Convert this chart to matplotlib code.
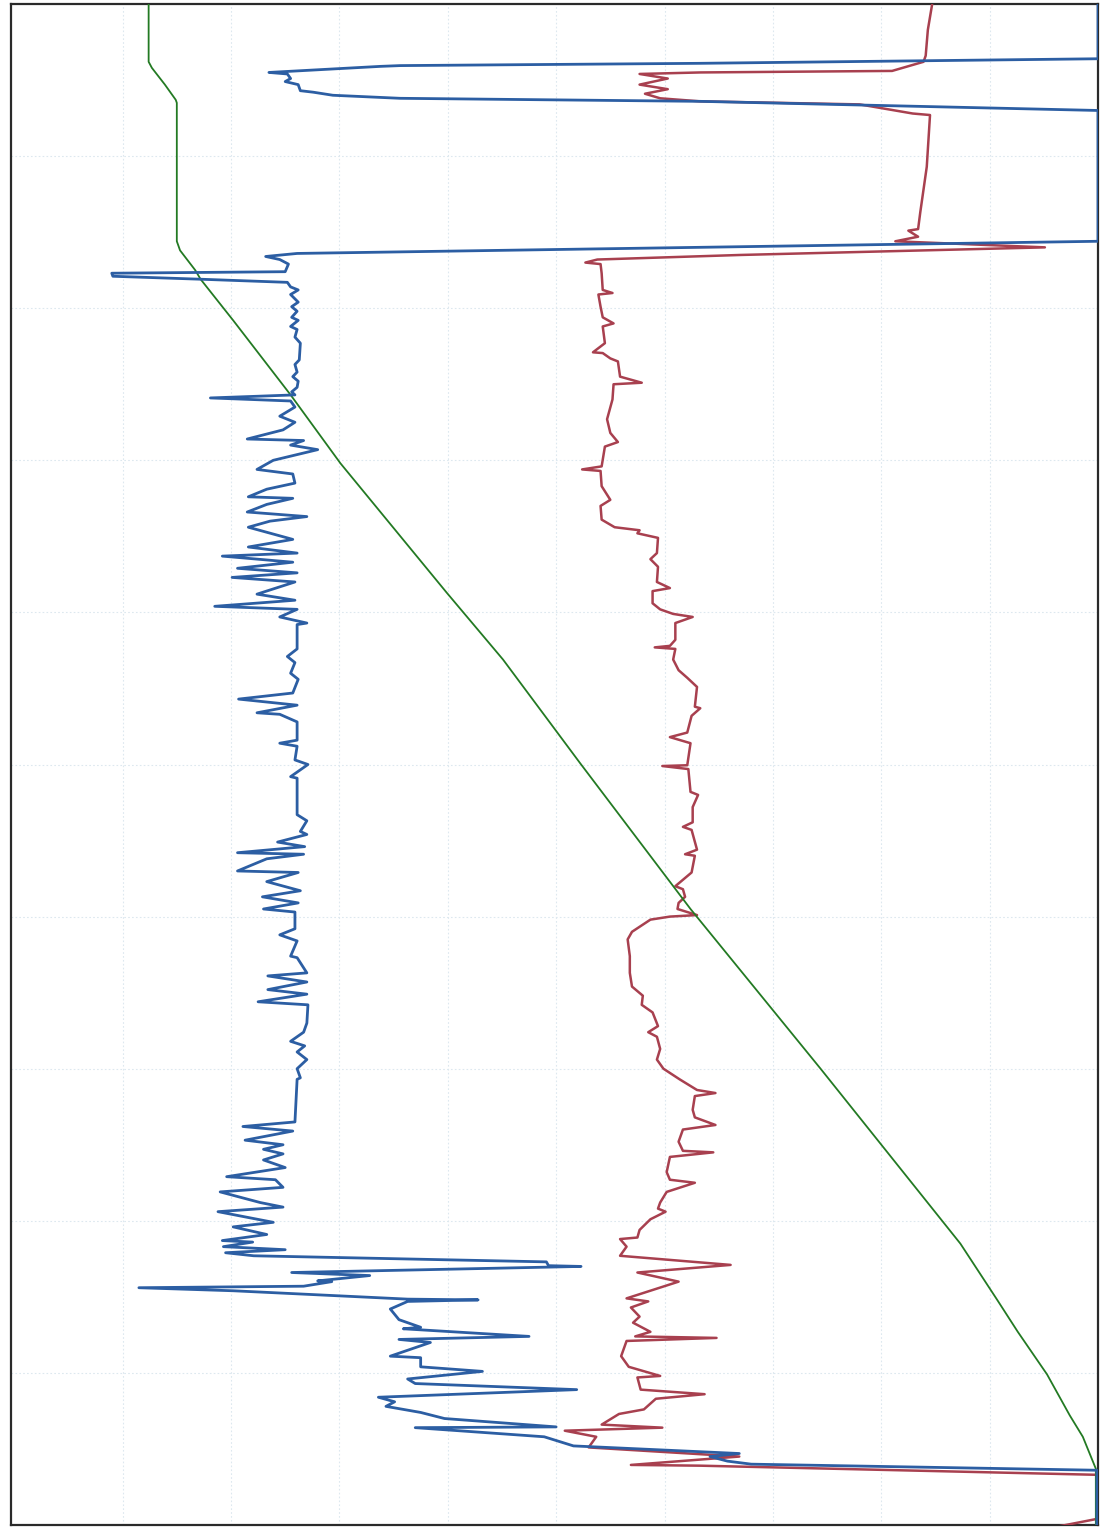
import matplotlib.pyplot as plt

# time runs top -> bottom (0..100), value runs left -> right (0..100)
green_t = [0, 3.8, 4.2, 5.3, 6.3, 6.5, 15.6, 16.2, 17.5, 18.1, 20.8, 25.7, 30.2,
           38.7, 43.1, 49.9, 59.5, 70.0, 81.5, 85.2, 87.3, 90.1, 92.8, 94.2, 96.3, 100]
green_v = [12.4, 12.4, 12.7, 13.9, 14.9, 15.0, 15.0, 15.3, 16.7, 17.2, 20.2, 25.5, 30.1,
           39.9, 45.1, 52.2, 62.4, 74.4, 87.3, 90.7, 92.6, 95.3, 97.4, 98.6, 99.8, 99.8]

red_t = [0, 1.7, 3.4, 3.8, 4.4, 4.5, 4.6, 4.9, 5.3, 5.6, 5.9, 6.2, 6.4, 6.6, 7.2, 7.3,
         10.7, 13.7, 14.8, 14.9, 15.3, 15.6, 16.0, 16.5, 16.8, 17.0, 17.1, 17.7, 18.8,
         19.0, 19.1, 19.9, 20.6, 21.0, 21.2, 22.3, 22.9, 22.95, 23.3, 23.5, 24.5, 24.9,
         25.0, 26.0, 27.3, 28.2, 28.8, 29.1, 30.4, 30.6, 30.7, 31.7, 32.6, 33.0, 33.9,
         34.4, 34.6, 34.8, 35.1, 36.1, 36.5, 37.0, 38.0, 38.4, 38.6, 39.4, 39.8, 40.1,
         40.3, 40.7, 41.8, 42.2, 42.3, 42.4, 43.1, 43.8, 44.3, 44.9, 46.2, 46.3, 46.8,
         47.9, 48.2, 48.6, 50.05, 50.1, 50.3, 51.8, 52.0, 52.8, 53.8, 54.1, 54.3, 55.6,
         55.9, 56.0, 57.1, 58.0, 58.2, 58.7, 59.1, 59.5, 59.9, 60.0, 60.2, 61.0, 61.5,
         62.6, 63.7, 64.6, 65.2, 65.8, 66.3, 67.2, 67.6, 67.9, 68.7, 69.4, 70.0, 70.7,
         71.4, 71.6, 71.8, 72.7, 73.2, 73.7, 74.0, 74.8, 75.4, 75.5, 75.8, 76.8, 77.3,
         77.5, 78.1, 78.8, 79.2, 79.4, 79.9, 80.6, 81.1, 81.2, 81.7, 82.3, 82.9, 83.4,
         84.0, 85.1, 85.3, 85.7, 86.3, 86.7, 87.3, 87.6, 87.7, 87.9, 88.9, 89.6, 90.2,
         90.3, 91.1, 91.4, 91.7, 92.4, 92.7, 93.4, 93.6, 93.8, 94.2, 94.9, 95.5, 96.05,
         96.1, 96.7, 99.6, 100.1]
red_v = [84.7, 84.3, 84.1, 83.9, 81.0, 63.3, 57.7, 60.3, 57.7, 60.3, 58.2, 59.6, 63.3,
         78.0, 82.9, 84.5, 84.2, 83.6, 83.4, 82.5, 83.4, 81.3, 95.1, 67.0, 53.8, 52.7,
         54.1, 54.2, 54.3, 55.2, 53.9, 54.1, 54.3, 55.3, 54.3, 54.5, 53.4, 54.3, 55.0,
         55.7, 55.9, 57.9, 55.3, 55.2, 54.7, 55.0, 55.7, 54.5, 54.2, 52.4, 54.1, 54.2,
         55.0, 54.1, 54.2, 55.4, 57.7, 57.5, 59.4, 59.3, 58.7, 59.4, 59.3, 60.5, 58.9,
         58.9, 59.6, 60.8, 62.6, 61.0, 61.0, 60.5, 59.1, 61.0, 60.8, 61.3, 62.1, 63.0,
         62.8, 63.3, 62.5, 62.1, 60.5, 62.4, 62.1, 59.8, 62.2, 62.4, 63.1, 62.6, 62.6,
         61.7, 62.5, 63.0, 61.9, 62.8, 62.5, 61.0, 61.7, 61.9, 61.3, 61.2, 63.0, 60.5,
         58.7, 57.0, 56.6, 56.8, 56.8, 57.0, 58.0, 57.9, 58.9, 59.4, 58.5, 59.3, 59.6,
         59.3, 59.9, 61.4, 63.0, 64.7, 62.8, 62.6, 62.8, 64.7, 61.7, 61.3, 61.7, 64.5,
         60.5, 60.2, 60.5, 62.8, 60.2, 59.6, 59.4, 60.1, 58.7, 57.7, 57.5, 55.9, 56.5,
         55.9, 66.1, 57.5, 61.3, 56.5, 58.5, 56.9, 57.7, 57.1, 58.7, 57.3, 64.8, 56.5,
         56.0, 56.7, 59.6, 57.5, 57.8, 63.7, 59.2, 58.1, 55.8, 54.2, 59.8, 50.8, 53.7,
         53.0, 66.9, 56.9, 63.3, 99.9, 99.9, 96.3]

blue_t = [0, 3.6, 3.9, 4.05, 4.1, 4.5, 4.6, 4.9, 5.1, 5.3, 5.7, 5.8, 6.0, 6.2, 6.4, 7.0,
          15.6, 16.0, 16.3, 16.35, 16.4, 16.6, 16.8, 17.1, 17.6, 17.65, 17.7, 17.9, 18.1,
          18.3, 18.6, 18.8, 19.1, 19.6, 19.9, 20.2, 20.6, 20.8, 21.2, 21.4, 21.9, 22.3,
          23.4, 23.7, 24.2, 24.5, 24.8, 25.2, 25.5, 25.7, 25.9, 26.1, 26.5, 27.1, 27.5,
          28.0, 28.6, 28.7, 29.0, 29.3, 30.0, 30.6, 30.9, 31.5, 31.9, 32.4, 32.5, 32.9,
          33.4, 33.7, 34.0, 34.4, 35.2, 35.7, 36.1, 36.3, 36.7, 37.1, 37.4, 37.7, 38.0,
          38.8, 39.2, 39.6, 39.8, 40.3, 40.7, 40.8, 42.4, 42.9, 43.3, 44.0, 44.4, 45.3,
          45.7, 46.1, 46.6, 46.7, 47.2, 48.4, 48.6, 48.8, 49.7, 50.0, 50.8, 50.9, 53.3,
          53.7, 54.4, 54.6, 55.1, 55.4, 55.8, 55.9, 56.2, 57.0, 57.1, 57.7, 58.3, 58.7,
          59.1, 59.5, 59.7, 60.8, 61.2, 61.6, 62.6, 62.7, 63.7, 63.9, 64.3, 64.8, 65.1,
          65.6, 65.8, 67.0, 67.6, 68.2, 68.5, 68.9, 69.4, 70.0, 70.6, 70.7, 73.5, 73.8,
          74.1, 74.7, 75.0, 75.3, 75.6, 76.0, 76.5, 77.1, 77.3, 77.8, 78.1, 78.8, 79.1,
          79.4, 80.1, 80.4, 80.9, 81.3, 81.4, 81.7, 81.9, 82.1, 82.3, 82.7, 82.95, 83.0,
          83.4, 83.6, 83.95, 84.0, 84.3, 84.4, 84.6, 85.15, 85.2, 85.3, 85.8, 86.5, 87.0,
          87.1, 87.6, 87.8, 88.0, 88.9, 89.0, 89.6, 89.9, 90.4, 90.7, 91.1, 91.6, 91.9,
          92.2, 92.6, 93.0, 93.55, 93.6, 94.2, 94.8, 95.3, 95.5, 95.8, 96.0, 96.4, 100]
blue_v = [100, 100, 63.3, 35.6, 33.8, 23.5, 25.2, 25.5, 25.0, 26.2, 26.4, 27.6, 29.4,
          35.6, 63.3, 100, 100, 63.3, 35.6, 31.0, 26.1, 23.2, 24.5, 25.3, 25.0, 17.2,
          9.0, 9.1, 17.4, 25.2, 25.5, 26.2, 25.5, 26.2, 25.6, 26.1, 25.6, 26.2, 25.5,
          26.1, 25.9, 26.4, 26.3, 25.9, 26.1, 25.7, 26.2, 26.1, 25.6, 25.9, 18.1, 25.5,
          25.9, 24.5, 25.9, 24.8, 21.5, 26.7, 25.5, 28.0, 23.9, 22.4, 25.7, 25.9, 23.3,
          21.6, 25.7, 23.3, 21.5, 27.0, 23.6, 21.6, 25.7, 21.6, 26.1, 19.2, 25.7, 20.6,
          26.1, 20.1, 25.9, 22.4, 25.9, 18.5, 26.1, 24.5, 27.0, 26.1, 26.1, 25.2, 25.9,
          25.5, 26.2, 25.7, 20.7, 26.1, 22.4, 24.5, 26.1, 26.1, 24.5, 26.1, 25.9, 27.1,
          25.5, 26.1, 26.1, 27.0, 26.4, 27.0, 24.3, 26.8, 20.6, 26.7, 23.3, 20.6, 26.2,
          23.3, 26.4, 22.9, 26.2, 23.0, 25.9, 25.9, 24.5, 26.1, 25.5, 26.1, 27.0, 23.4,
          27.0, 23.4, 27.0, 22.5, 27.1, 27.0, 26.7, 25.5, 26.8, 26.1, 27.0, 26.1, 26.4,
          26.1, 25.9, 21.1, 25.7, 21.3, 24.8, 23.0, 24.8, 23.0, 25.0, 19.6, 24.1, 24.8,
          19.0, 22.7, 24.8, 18.8, 23.9, 20.2, 23.3, 19.2, 22.0, 19.3, 25.0, 19.5, 22.1,
          49.1, 49.3, 52.3, 25.6, 32.8, 28.0, 29.3, 26.7, 11.5, 20.2, 36.3, 42.8, 36.3,
          34.7, 35.5, 37.5, 35.9, 47.5, 35.5, 38.4, 34.7, 37.5, 37.5, 43.2, 36.3, 37.0,
          51.9, 33.6, 35.1, 34.3, 37.5, 39.7, 50.0, 37.0, 48.9, 51.6, 66.9, 64.2, 65.8,
          68.0, 99.9, 99.9]

fig = plt.figure(figsize=(11.1, 15.28), dpi=100)
ax = fig.add_axes([11 / 1110, 3 / 1528, 1087 / 1110, 1521 / 1528])

ax.plot(red_v, red_t, color='#a8404f', linewidth=1.8, zorder=3)
ax.plot(green_v, green_t, color='#237a23', linewidth=1.3, zorder=4)
ax.plot(blue_v, blue_t, color='#2c5ea3', linewidth=2.0, zorder=5)

ax.set_xlim(-0.3, 100)
ax.set_ylim(100, 0)
ax.set_xticks(range(10, 100, 10))
ax.set_yticks(range(10, 100, 10))
ax.tick_params(length=0, labelbottom=False, labelleft=False)
ax.grid(True, color='#dde8ef', linestyle=(0, (1.5, 2)), linewidth=0.8)
for s in ax.spines.values():
    s.set_color('#2a2a2a')
    s.set_linewidth(1.6)

fig.savefig('out.png', dpi=100, facecolor='white')
